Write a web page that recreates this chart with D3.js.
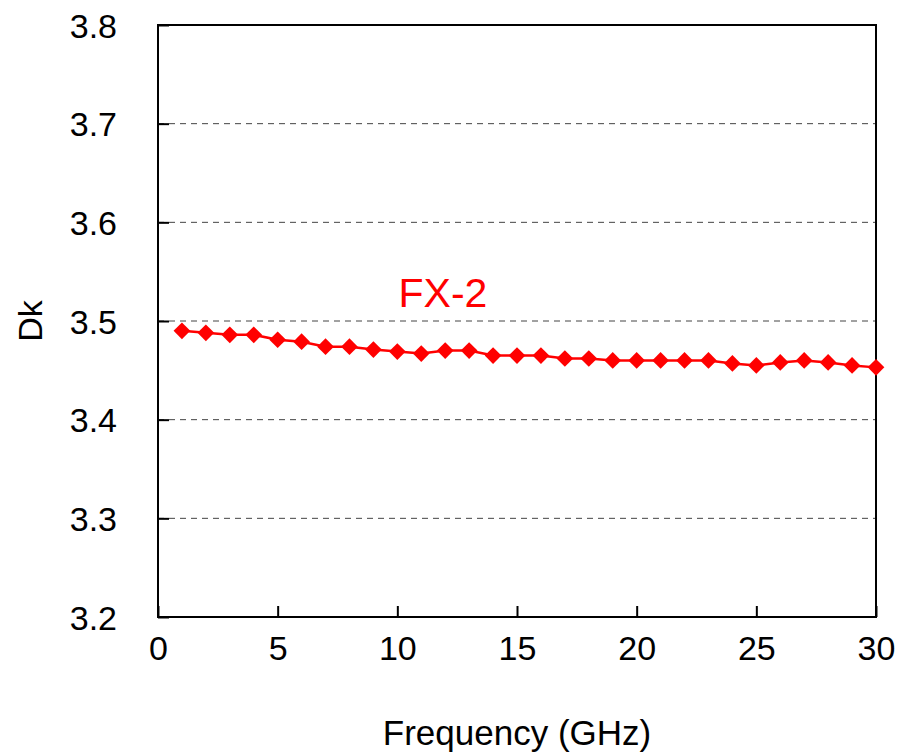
<!DOCTYPE html>
<html>
<head>
<meta charset="utf-8">
<script src="https://cdn.jsdelivr.net/npm/d3@7"></script>
<style>
  body { margin: 0; background: #fff; }
  svg text { font-family: "Liberation Sans", Arial, sans-serif; }
</style>
</head>
<body>
<div id="chart"></div>
<script>
// data
const frequency = [1,2,3,4,5,6,7,8,9,10,11,12,13,14,15,16,17,18,19,20,21,22,23,24,25,26,27,28,29,30];
const dk = [3.490,3.488,3.486,3.486,3.481,3.479,3.474,3.474,3.471,3.469,3.467,3.470,3.470,3.465,3.465,
            3.465,3.462,3.462,3.460,3.460,3.460,3.460,3.460,3.457,3.455,3.458,3.460,3.458,3.455,3.453];
const xTicks = [0,5,10,15,20,25,30];
const yTicks = [3.2,3.3,3.4,3.5,3.6,3.7,3.8];
const seriesName = 'FX-2';

const width = 899, height = 752;
const margin = {left: 158, right: 23, top: 25, bottom: 135};

const svg = d3.select('#chart').append('svg')
  .attr('width', width)
  .attr('height', height);

const x = d3.scaleLinear().domain([0, 30]).range([margin.left, width - margin.right]);
const y = d3.scaleLinear().domain([3.2, 3.8]).range([height - margin.bottom, margin.top]);

// dashed gridlines
svg.append('g')
  .selectAll('line')
  .data(yTicks.slice(1, -1))
  .enter().append('line')
  .attr('x1', x(0)).attr('x2', x(30))
  .attr('y1', d => y(d)).attr('y2', d => y(d))
  .attr('stroke', '#444')
  .attr('stroke-width', 1)
  .attr('stroke-dasharray', '6,5');

// frame
svg.append('rect')
  .attr('x', x(0)).attr('y', y(3.8))
  .attr('width', x(30) - x(0)).attr('height', y(3.2) - y(3.8))
  .attr('fill', 'none')
  .attr('stroke', '#000')
  .attr('stroke-width', 2);

// axes, ticks pointing in
const xAxis = svg.append('g')
  .attr('transform', 'translate(0,' + y(3.2) + ')')
  .call(d3.axisBottom(x).tickValues(xTicks).tickSizeInner(-11).tickSizeOuter(0).tickPadding(43).tickFormat(d3.format('d')));
const yAxis = svg.append('g')
  .attr('transform', 'translate(' + x(0) + ',0)')
  .call(d3.axisLeft(y).tickValues(yTicks).tickSizeInner(-11).tickSizeOuter(0).tickPadding(41).tickFormat(d3.format('.1f')));

[xAxis, yAxis].forEach(a => {
  a.select('.domain').remove();
  a.selectAll('.tick line').attr('stroke', '#000').attr('stroke-width', 2);
  a.selectAll('.tick text')
    .attr('font-size', 34)
    .attr('fill', '#000')
    .style('font-family', '"Liberation Sans", Arial, sans-serif');
});
xAxis.selectAll('.tick text').attr('dy', '0');
yAxis.selectAll('.tick text').attr('dy', '0.36em');

// axis titles
svg.append('text')
  .attr('x', (x(0) + x(30)) / 2)
  .attr('y', 745)
  .attr('text-anchor', 'middle')
  .attr('font-size', 35)
  .attr('fill', '#000')
  .text('Frequency (GHz)');

svg.append('text')
  .attr('transform', 'translate(42,' + ((y(3.2) + y(3.8)) / 2) + ') rotate(-90)')
  .attr('text-anchor', 'middle')
  .attr('font-size', 34)
  .attr('fill', '#000')
  .text('Dk');

// series
const pts = frequency.map((f, i) => ({f: f, v: dk[i]}));
const line = d3.line().x(d => x(d.f)).y(d => y(d.v));

svg.append('path')
  .datum(pts)
  .attr('d', line)
  .attr('fill', 'none')
  .attr('stroke', '#ff0000')
  .attr('stroke-width', 2.5);

svg.append('g')
  .selectAll('path')
  .data(pts)
  .enter().append('path')
  .attr('d', d3.symbol().type(d3.symbolSquare).size(140))
  .attr('transform', d => 'translate(' + x(d.f) + ',' + y(d.v) + ') rotate(45)')
  .attr('fill', '#ff0000');

svg.append('text')
  .attr('x', 443)
  .attr('y', 307)
  .attr('text-anchor', 'middle')
  .attr('font-size', 41)
  .attr('fill', '#ff0000')
  .text(seriesName);
</script>
</body>
</html>
